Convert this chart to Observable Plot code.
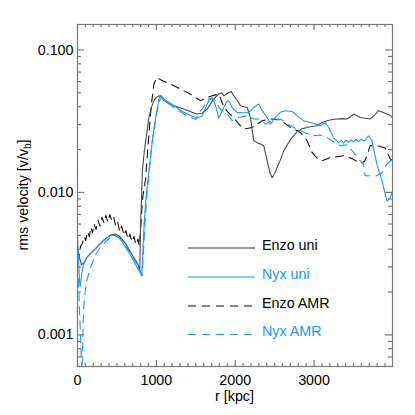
<!DOCTYPE html>
<html><head><meta charset="utf-8">
<script src="https://cdn.jsdelivr.net/npm/d3@7"></script>
<script src="https://cdn.jsdelivr.net/npm/@observablehq/plot@0.6"></script>
<style>body{margin:0;background:#fff} svg{display:block}</style>
</head><body><div id="chart"></div>
<script>
// r [kpc], rms velocity [v/v_b]
const enzoUni = [[0,0.0040],[25,0.0035],[50,0.0031],[80,0.0032],[120,0.0035],[160,0.0037],[240,0.0041],[330,0.0046],[413,0.0050],[476,0.0051],[539,0.0049],[620,0.0043],[700,0.0036],[770,0.0031],[790,0.0028],[800,0.0060],[812,0.0090],[823,0.0142],[845,0.019],[865,0.0231],[906,0.0336],[940,0.040],[970,0.0441],[1000,0.0465],[1033,0.0477],[1060,0.047],[1096,0.0441],[1160,0.042],[1223,0.0406],[1349,0.0385],[1450,0.0365],[1519,0.0355],[1580,0.036],[1646,0.0385],[1690,0.042],[1729,0.0453],[1792,0.0491],[1830,0.050],[1856,0.0477],[1919,0.0504],[1950,0.051],[1982,0.0477],[2030,0.044],[2067,0.0406],[2110,0.040],[2152,0.0395],[2194,0.0334],[2235,0.0231],[2290,0.0222],[2330,0.0218],[2362,0.0213],[2405,0.0167],[2440,0.0138],[2468,0.0127],[2500,0.0136],[2532,0.0150],[2575,0.017],[2615,0.0196],[2660,0.0215],[2700,0.0235],[2785,0.0267],[2850,0.028],[2911,0.0286],[2970,0.029],[3038,0.0294],[3100,0.031],[3165,0.0319],[3230,0.0325],[3291,0.0328],[3350,0.033],[3418,0.0328],[3460,0.034],[3501,0.0355],[3545,0.0345],[3586,0.0336],[3650,0.0332],[3712,0.0328],[3770,0.035],[3818,0.0375],[3870,0.0365],[3924,0.0355],[3960,0.035],[3995,0.0334]];

const nyxUni = [[0,0.0050],[12,0.0036],[25,0.0024],[35,0.0022],[55,0.0027],[76,0.0031],[118,0.0035],[160,0.0037],[244,0.0041],[329,0.0046],[413,0.0050],[476,0.0050],[539,0.0048],[600,0.0042],[666,0.0037],[740,0.0031],[814,0.0026],[830,0.0040],[845,0.0060],[865,0.0087],[906,0.0142],[949,0.0231],[991,0.0336],[1033,0.0453],[1054,0.0482],[1075,0.047],[1096,0.0453],[1160,0.043],[1223,0.0406],[1349,0.0365],[1440,0.0345],[1519,0.0333],[1582,0.0346],[1630,0.040],[1666,0.0441],[1709,0.0462],[1751,0.0406],[1792,0.0334],[1856,0.0395],[1899,0.0441],[1930,0.043],[1962,0.0393],[2025,0.0365],[2089,0.0363],[2172,0.0363],[2235,0.0395],[2299,0.0418],[2342,0.0375],[2405,0.0336],[2447,0.0302],[2510,0.0336],[2573,0.0365],[2637,0.0375],[2721,0.0370],[2785,0.0346],[2869,0.0319],[2953,0.0310],[3016,0.0302],[3080,0.0294],[3143,0.0310],[3185,0.0286],[3248,0.0243],[3311,0.0224],[3345,0.0232],[3375,0.0223],[3410,0.0233],[3440,0.0225],[3470,0.0234],[3500,0.0226],[3530,0.0236],[3560,0.0228],[3600,0.0236],[3640,0.0230],[3691,0.0250],[3734,0.0231],[3797,0.0158],[3861,0.0121],[3924,0.0087],[3966,0.0092],[3995,0.0103]];

const enzoAMR = [[0,0.0040],[20,0.0036],[40,0.0042],[63,0.0044],[85,0.0049],[105,0.0046],[127,0.0053],[150,0.0049],[170,0.0057],[190,0.0052],[210,0.0060],[235,0.0055],[260,0.0064],[285,0.0058],[310,0.0067],[337,0.0061],[360,0.0069],[385,0.0062],[410,0.0070],[435,0.0063],[460,0.0067],[485,0.0058],[510,0.0062],[535,0.0053],[560,0.0058],[590,0.0050],[615,0.0054],[640,0.0047],[665,0.0051],[690,0.0045],[716,0.0049],[740,0.0043],[767,0.0047],[785,0.0042],[800,0.0055],[815,0.0075],[830,0.0095],[850,0.011],[865,0.0127],[886,0.0186],[906,0.0257],[937,0.0418],[970,0.0577],[1004,0.0642],[1050,0.062],[1096,0.0602],[1223,0.0561],[1392,0.0504],[1480,0.047],[1561,0.0441],[1646,0.0465],[1720,0.048],[1792,0.0491],[1820,0.045],[1856,0.0395],[1920,0.036],[1982,0.0336],[2050,0.030],[2109,0.0279],[2215,0.0286],[2342,0.0319],[2447,0.0328],[2573,0.0324],[2700,0.0286],[2827,0.0264],[2911,0.0231],[2975,0.0191],[3038,0.0174],[3102,0.0167],[3206,0.0176],[3291,0.0178],[3375,0.0181],[3481,0.0173],[3586,0.0160],[3640,0.0165],[3671,0.0181],[3712,0.0213],[3797,0.0213],[3903,0.0205],[3966,0.0172],[3995,0.0167]];

const nyxAMR = [[0,0.0031],[15,0.0022],[30,0.0013],[45,0.0008],[55,0.0005],[65,0.0008],[76,0.0015],[96,0.0020],[118,0.0024],[159,0.0029],[223,0.0036],[286,0.0041],[371,0.0046],[434,0.0049],[500,0.0049],[560,0.0046],[666,0.0038],[760,0.0031],[820,0.0026],[838,0.0040],[855,0.0060],[880,0.0095],[920,0.016],[960,0.026],[1000,0.035],[1040,0.044],[1066,0.047],[1100,0.0445],[1223,0.0395],[1349,0.0355],[1500,0.0325],[1561,0.0375],[1600,0.040],[1666,0.0453],[1700,0.046],[1751,0.0441],[1800,0.039],[1850,0.037],[1899,0.0355],[1962,0.0319],[2046,0.0336],[2152,0.0346],[2235,0.0328],[2320,0.0328],[2384,0.0302],[2468,0.0319],[2573,0.0328],[2700,0.0294],[2827,0.0271],[2975,0.0250],[3080,0.0253],[3165,0.0243],[3248,0.0227],[3333,0.0213],[3418,0.0216],[3501,0.0191],[3565,0.0172],[3628,0.0158],[3649,0.0131],[3734,0.0131],[3797,0.0131],[3861,0.0138],[3924,0.0158],[3995,0.0172]];

const seriesNames = ["Enzo uni", "Nyx uni", "Enzo AMR", "Nyx AMR"];
const seriesData = [enzoUni, nyxUni, enzoAMR, nyxAMR];
const xTicks = [0, 1000, 2000, 3000];
const yTicks = [0.001, 0.01, 0.1];
const xDomain = [0, 3995];
const yDomain = [0.0006, 0.151];
const xLabel = "r [kpc]";

const BLUE = "rgb(25,150,255)";
const colors = ["#4a4a4a", BLUE, "#111", BLUE];
const dashes = [null, null, "8,6", "8,6"];
const AX = "#777";
const FONT = "'Liberation Sans', Arial, Helvetica, sans-serif";
const FS = 14.3;

const W = 415, H = 415, mt = 24, mb = 49, ml = 77, mr = 23;
const pw = W - ml - mr, ph = H - mt - mb;

const xMinor = d3.range(100, xDomain[1], 100).filter(v => v % 1000 !== 0);
const yMinor = [];
for (const dec of [1e-4, 1e-3, 1e-2, 1e-1]) for (let k = 2; k <= 9; k++) {
  const v = k * dec; if (v > yDomain[0] * 0.999 && v < yDomain[1]) yMinor.push(v);
}

const lineMarks = [2, 0, 3, 1].map(i => Plot.line(seriesData[i], {
  x: d => d[0], y: d => d[1], stroke: colors[i], strokeWidth: 1.1,
  strokeDasharray: dashes[i], clip: true
}));

const chart = Plot.plot({
  width: W, height: H, marginTop: mt, marginBottom: mb, marginLeft: ml, marginRight: mr,
  style: {fontFamily: FONT, fontSize: FS + "px", color: "#000", background: "#fff"},
  x: {type: "linear", domain: xDomain},
  y: {type: "log", domain: yDomain},
  marks: [
    ...lineMarks,
    Plot.frame({stroke: AX, strokeWidth: 1.2}),
    Plot.ruleX(xTicks, {x: d => d, insetTop: ph - 6, stroke: AX, strokeWidth: 1.2}),
    Plot.ruleX(xTicks, {x: d => d, insetBottom: ph - 6, stroke: AX, strokeWidth: 1.2}),
    Plot.ruleX(xMinor, {x: d => d, insetTop: ph - 3, stroke: AX, strokeWidth: 1.2}),
    Plot.ruleX(xMinor, {x: d => d, insetBottom: ph - 3, stroke: AX, strokeWidth: 1.2}),
    Plot.ruleY(yTicks, {y: d => d, insetRight: pw - 7, stroke: AX, strokeWidth: 1.2}),
    Plot.ruleY(yTicks, {y: d => d, insetLeft: pw - 7, stroke: AX, strokeWidth: 1.2}),
    Plot.ruleY(yMinor, {y: d => d, insetRight: pw - 4, stroke: AX, strokeWidth: 1.2}),
    Plot.ruleY(yMinor, {y: d => d, insetLeft: pw - 4, stroke: AX, strokeWidth: 1.2}),
    Plot.axisX({ticks: xTicks, tickSize: 0, tickPadding: 8, tickFormat: d => String(d), label: null}),
    Plot.axisY({ticks: yTicks, tickSize: 0, tickPadding: 4, tickFormat: d3.format(".3f"), label: null})
  ]
});

const svg = d3.select(chart);
// x label
svg.append("text").attr("x", ml + pw / 2).attr("y", 401).attr("text-anchor", "middle")
  .attr("font-size", FS).attr("font-family", FONT).attr("fill", "#000").text(xLabel);
// y label with subscript
const yl = svg.append("text").attr("transform", `translate(28,${mt + ph / 2}) rotate(-90)`)
  .attr("text-anchor", "middle").attr("font-size", FS).attr("font-family", FONT).attr("fill", "#000");
yl.append("tspan").text("rms velocity [v/v");
yl.append("tspan").attr("font-size", 10).attr("dy", 3).text("b");
yl.append("tspan").attr("dy", -3).text("]");

// legend
const lg = svg.append("g");
const rowY = [248, 277, 306, 334.5];
seriesNames.forEach((name, i) => {
  lg.append("line").attr("x1", 188).attr("x2", 255).attr("y1", rowY[i]).attr("y2", rowY[i])
    .attr("stroke", i === 0 ? "#777" : colors[i]).attr("stroke-width", i === 0 ? 1.6 : 1.1)
    .attr("stroke-dasharray", dashes[i]);
  lg.append("text").attr("x", 262).attr("y", rowY[i] + 1.5).attr("font-size", FS)
    .attr("text-anchor", "start")
    .attr("font-family", FONT).attr("fill", i % 2 ? BLUE : "#000").text(name);
});

document.getElementById("chart").appendChild(chart);
</script>
</body></html>
